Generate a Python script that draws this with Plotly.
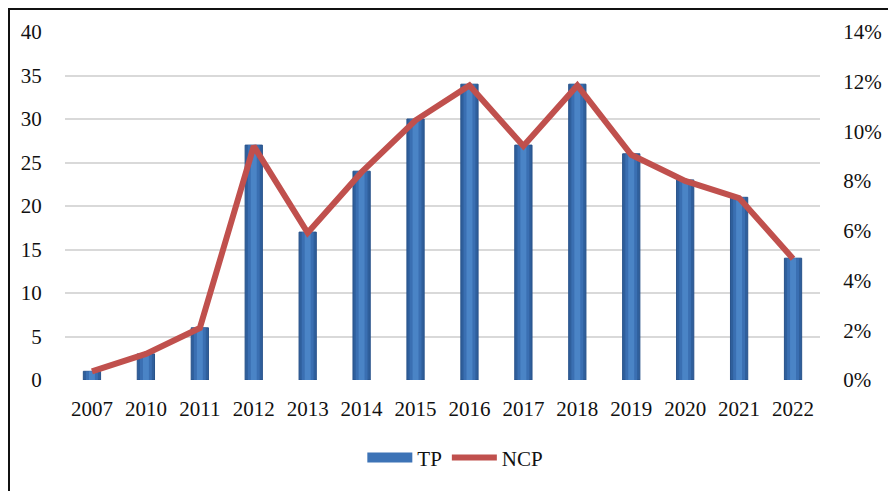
import plotly.graph_objects as go
from plotly.subplots import make_subplots

years = ["2007", "2010", "2011", "2012", "2013", "2014", "2015", "2016",
         "2017", "2018", "2019", "2020", "2021", "2022"]
tp = [1, 3, 6, 27, 17, 24, 30, 34, 27, 34, 26, 23, 21, 14]
ncp = [0.0035, 0.0105, 0.0209, 0.0941, 0.0592, 0.0836, 0.1045, 0.1185,
       0.0941, 0.1185, 0.0906, 0.0801, 0.0732, 0.0488]

left_ticks = [0, 5, 10, 15, 20, 25, 30, 35, 40]
right_ticks = [0, 0.02, 0.04, 0.06, 0.08, 0.10, 0.12, 0.14]

FONT = "Liberation Serif, Times New Roman, serif"

fig = make_subplots(specs=[[{"secondary_y": True}]])

fig.add_trace(go.Bar(x=years, y=tp, name="TP", width=0.32, legendgroup="tp",
                     marker=dict(color="#2F5F9C", line=dict(color="#28528A", width=1)),
                     showlegend=False), secondary_y=False)
fig.add_trace(go.Bar(x=years, y=tp, width=0.22, marker=dict(color="#3A6FB2", line=dict(width=0)),
                     showlegend=False, hoverinfo="skip", legendgroup="tp"), secondary_y=False)
fig.add_trace(go.Bar(x=years, y=tp, width=0.11, marker=dict(color="#4A84C6", line=dict(width=0)),
                     showlegend=False, hoverinfo="skip", legendgroup="tp"), secondary_y=False)
# legend key for TP (wide blue bar-like key, no data drawn)
fig.add_trace(go.Scatter(x=[None], y=[None], name="TP", mode="lines", legendgroup="tp",
                         line=dict(color="#3D73B6", width=10)), secondary_y=False)

fig.add_trace(go.Scatter(x=years, y=ncp, name="NCP", mode="lines",
                         line=dict(color="#C0504D", width=6)), secondary_y=True)

W, H = 888, 483
L, R, T, B = 57, 76, 24, 111
PW, PH = W - L - R, H - T - B

fig.update_layout(
    width=W, height=H,
    margin=dict(l=L, r=R, t=T, b=B, autoexpand=False),
    barmode="overlay",
    paper_bgcolor="white", plot_bgcolor="white",
    font=dict(family=FONT, size=21, color="#111111"),
    legend=dict(orientation="h", x=0.517, xanchor="center", y=-0.224, yanchor="middle",
                font=dict(family=FONT, size=21, color="#111111"), itemwidth=45,
                traceorder="normal"),
    shapes=[dict(type="rect", xref="paper", yref="paper",
                 x0=(1 - L) / PW, x1=(W + 5 - L) / PW, y0=-(B + 5) / PH, y1=(PH + T - 1) / PH,
                 line=dict(color="#111111", width=2), fillcolor="rgba(0,0,0,0)", layer="above")],
)

fig.update_xaxes(type="category", domain=[0, 1], showgrid=False, showline=False, zeroline=False,
                 ticks="outside", ticklen=10, tickcolor="rgba(0,0,0,0)",
                 tickfont=dict(family=FONT, size=21), automargin=False)
fig.update_yaxes(range=[0, 40], tickvals=left_ticks, showgrid=True, gridcolor="#D9D9D9",
                 gridwidth=1.5, zeroline=False, showline=False,
                 ticks="outside", ticklen=18, tickcolor="rgba(0,0,0,0)",
                 tickfont=dict(family=FONT, size=21), secondary_y=False, automargin=False)
fig.update_yaxes(range=[0, 0.14], tickvals=right_ticks, tickformat=".0%", showgrid=False,
                 zeroline=False, showline=False,
                 ticks="outside", ticklen=18, tickcolor="rgba(0,0,0,0)",
                 tickfont=dict(family=FONT, size=21), secondary_y=True, automargin=False)

fig.write_html("out.html")
